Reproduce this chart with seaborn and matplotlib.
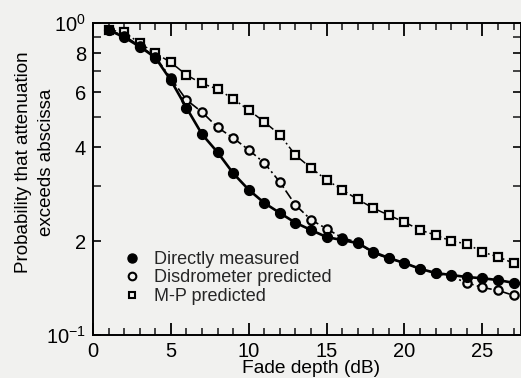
import numpy as np
import pandas as pd
import matplotlib
matplotlib.use("Agg")
import matplotlib.pyplot as plt
from matplotlib.lines import Line2D
from matplotlib.ticker import FixedLocator, NullFormatter
import seaborn as sns

# ---- data ----
fade_db = list(range(1, 28))
directly_measured = [0.95, 0.90, 0.84, 0.775, 0.655, 0.535, 0.44, 0.385, 0.33, 0.292,
                     0.265, 0.246, 0.229, 0.217, 0.206, 0.2015, 0.197, 0.1845, 0.1765, 0.170,
                     0.163, 0.158, 0.1557, 0.1534, 0.152, 0.150, 0.147]
disdrometer_predicted = [0.95, 0.91, 0.845, 0.78, 0.665, 0.567, 0.518, 0.463, 0.428, 0.392,
                         0.356, 0.309, 0.261, 0.234, 0.219, 0.205, 0.198, 0.183, 0.176, 0.170,
                         0.163, 0.158, 0.154, 0.147, 0.142, 0.139, 0.134]
mp_predicted = [0.95, 0.935, 0.862, 0.80, 0.748, 0.681, 0.64, 0.614, 0.571, 0.526,
                0.482, 0.438, 0.377, 0.343, 0.314, 0.292, 0.272, 0.255, 0.242, 0.230,
                0.217, 0.209, 0.200, 0.196, 0.1845, 0.178, 0.170]
series_names = ["Directly measured", "Disdrometer predicted", "M-P predicted"]
x_ticks = [0, 5, 10, 15, 20, 25]
y_ticks = [0.1, 0.2, 0.4, 0.6, 0.8, 1.0]
y_tick_labels = [r"$10^{-1}$", "2", "4", "6", "8", r"$10^{0}$"]
y_minor = [0.3, 0.5, 0.7, 0.9]

sns.set_theme(style="ticks")
plt.rcParams["font.family"] = ["Liberation Sans", "DejaVu Sans"]
plt.rcParams["mathtext.default"] = "regular"

bg = "#f1f1ef"
fig = plt.figure(figsize=(5.21, 3.78), dpi=100, facecolor=bg)
ax = fig.add_axes([93 / 521, 43 / 378, (521 - 92.7) / 521, 312 / 378])
ax.set_facecolor(bg)

df = pd.DataFrame({"x": fade_db, "dm": directly_measured,
                   "dp": disdrometer_predicted, "mp": mp_predicted})

sns.lineplot(data=df, x="x", y="mp", ax=ax, color="black", lw=1.1,
             marker="s", markersize=5.5, markerfacecolor=bg, markeredgecolor="black",
             markeredgewidth=1.6, legend=False, zorder=2)
ax.lines[-1].set_dashes([5, 2, 1.2, 2])
sns.lineplot(data=df, x="x", y="dp", ax=ax, color="black", lw=1.2,
             marker="o", markersize=6, markerfacecolor=bg, markeredgecolor="black",
             markeredgewidth=1.6, legend=False, zorder=3)
ax.lines[-1].set_dashes([6, 2, 1.2, 2])
sns.lineplot(data=df, x="x", y="dm", ax=ax, color="black", lw=1.9,
             marker="o", markersize=7.3, markerfacecolor="black", markeredgecolor="black",
             legend=False, zorder=4)

ax.set_yscale("log")
ax.set_xlim(0, 27.5)
ax.set_ylim(0.1, 1.0)
ax.set_xlabel("")
ax.set_ylabel("")

ax.set_xticks(x_ticks)
ax.set_xticklabels([str(t) for t in x_ticks])
ax.xaxis.set_minor_locator(FixedLocator([v for v in range(0, 28) if v % 5 != 0]))
ax.set_yticks(y_ticks)
ax.set_yticklabels(y_tick_labels)
ax.yaxis.set_minor_locator(FixedLocator(y_minor))
ax.yaxis.set_minor_formatter(NullFormatter())

ax.tick_params(axis="x", which="major", direction="in", length=9, width=1.3,
               top=True, bottom=True, labelsize=14.5, pad=5, colors="black")
ax.tick_params(axis="x", which="minor", direction="in", length=5, width=1.2,
               top=True, bottom=True)
ax.tick_params(axis="y", which="major", direction="in", length=5.5, width=1.2,
               left=True, right=True, labelsize=14.5, pad=5, colors="black")
ax.tick_params(axis="y", which="minor", direction="in", length=5.5, width=1.2,
               left=True, right=True)
for s in ax.spines.values():
    s.set_linewidth(1.4)
    s.set_color("black")

handles = [
    Line2D([], [], linestyle="none", marker="o", markersize=6.5,
           markerfacecolor="black", markeredgecolor="black"),
    Line2D([], [], linestyle="none", marker="o", markersize=5.5,
           markerfacecolor=bg, markeredgecolor="black", markeredgewidth=1.5),
    Line2D([], [], linestyle="none", marker="s", markersize=5,
           markerfacecolor=bg, markeredgecolor="black", markeredgewidth=1.5),
]
ax.legend(handles, series_names, loc="upper left",
          bbox_to_anchor=(125 / 521, 1 - 251 / 378), bbox_transform=fig.transFigure,
          frameon=False, fontsize=13, handlelength=0.8, handletextpad=0.8,
          labelspacing=0.08, borderpad=0, borderaxespad=0)

fig.text(35 / 521, 1 - 162 / 378, "Probability that attenuation\nexceeds abscissa",
         rotation=90, ha="center", va="center", multialignment="center",
         fontsize=13.5, linespacing=1.4, color="black")
fig.text(311 / 521, 5 / 378, "Fade depth (dB)", ha="center", va="baseline",
         fontsize=13.8, color="black")

fig.savefig("out.png", dpi=100, facecolor=bg)
